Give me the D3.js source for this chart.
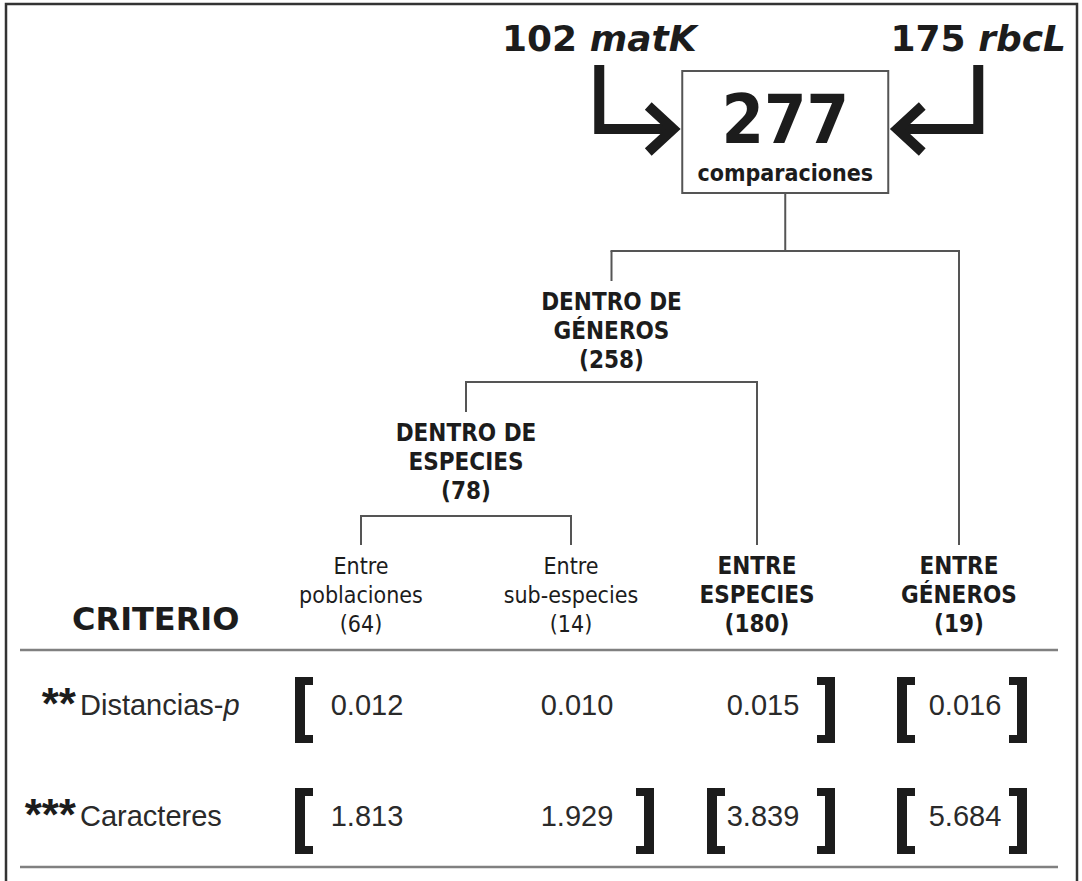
<!DOCTYPE html>
<html><head><meta charset="utf-8">
<script src="https://cdn.jsdelivr.net/npm/d3@7"></script>
<style>body{margin:0;background:#fff}</style>
</head><body><svg id="c" width="1082" height="881"></svg>
<script>
// ---------------- data ----------------
const total = 277;
const totalLabel = "comparaciones";
const sourceCounts = [102, 175];
const sourceGenes = ["matK", "rbcL"];
const innerLines = [["DENTRO DE", "GÉNEROS"], ["DENTRO DE", "ESPECIES"]];
const innerCounts = [258, 78];
const leafKeys = ["poblaciones", "subespecies", "especies", "generos"];
const leafLines = [["Entre", "poblaciones"], ["Entre", "sub-especies"], ["ENTRE", "ESPECIES"], ["ENTRE", "GÉNEROS"]];
const leafCounts = [64, 14, 180, 19];
const leafBold = [false, false, true, true];
const criterionTitle = "CRITERIO";
const criteria = ["Distancias-", "Caracteres"];
const criteriaItalic = ["p", ""];
const criteriaStars = ["**", "***"];
const distanciasP = [0.012, 0.010, 0.015, 0.016];
const caracteres = [1.813, 1.929, 3.839, 5.684];
const distanciasGroups = [[0, 2], [3, 3]];
const caracteresGroups = [[0, 1], [2, 2], [3, 3]];

// ---------------- layout ----------------
const svg = d3.select("#c");
const x = d3.scaleOrdinal().domain(leafKeys).range([361, 571, 757, 959]);
const rowY = d3.scaleOrdinal().domain(criteria).range([715, 826]);
const barY = [251, 382, 516];
const leafTop = 545, lineH = 29;
const bracketLeftPad = [66, 60, 50, 62], bracketRightPad = [70, 83, 78, 68];
const COND = "'DejaVu Sans Condensed','DejaVu Sans',sans-serif";
const INK = "#1c1c1c", LINE = "#555";

// frame
svg.append("path").attr("d", "M6,881V4H1077V881").attr("fill", "none")
  .attr("stroke", "#333").attr("stroke-width", 2.5);

// tree
const leaf = i => ({key: leafKeys[i], lines: leafLines[i], n: leafCounts[i], bold: leafBold[i]});
const treeData = {children: [
  {lines: innerLines[0], n: innerCounts[0], bold: true, children: [
    {lines: innerLines[1], n: innerCounts[1], bold: true, children: [leaf(0), leaf(1)]},
    leaf(2)]},
  leaf(3)]};
const root = d3.hierarchy(treeData);
root.eachAfter(d => { d.x = d.children ? d3.mean(d.children, c => c.x) : x(d.data.key); });
const nodeTop = d => d.children ? barY[d.depth - 1] + 30 : leafTop;

const g = svg.append("g").attr("fill", "none").attr("stroke", LINE).attr("stroke-width", 2);
root.each(p => {
  if (!p.children) return;
  const xs = p.children.map(c => c.x);
  g.append("line").attr("x1", d3.min(xs) - 1).attr("x2", d3.max(xs) + 1)
    .attr("y1", barY[p.depth]).attr("y2", barY[p.depth]);
  p.children.forEach(c => g.append("line").attr("x1", c.x).attr("x2", c.x)
    .attr("y1", barY[p.depth]).attr("y2", nodeTop(c)));
});

// root box
const boxW = 206, boxTop = 71, boxBot = 193;
const boxL = root.x - boxW / 2, boxR = root.x + boxW / 2;
svg.append("rect").attr("x", boxL).attr("y", boxTop).attr("width", boxW).attr("height", boxBot - boxTop)
  .attr("fill", "#fff").attr("stroke", LINE).attr("stroke-width", 2);
g.append("line").attr("x1", root.x).attr("x2", root.x).attr("y1", boxBot).attr("y2", barY[0]);
svg.append("text").attr("x", root.x).attr("y", 143).attr("text-anchor", "middle")
  .attr("font-family", COND).attr("font-weight", "bold").attr("font-size", 68).attr("fill", INK).text(total);
svg.append("text").attr("x", root.x).attr("y", 181).attr("text-anchor", "middle")
  .attr("font-family", COND).attr("font-weight", "bold").attr("font-size", 23).attr("fill", INK).text(totalLabel);

// source arrows
const arrowY = 129, arrowTop = 65;
const srcX = [boxL - 83, boxR + 90];
const tipX = [boxL - 9, boxR + 9];
const dir = [1, -1];
sourceCounts.forEach((n, i) => {
  const t = svg.append("text").attr("x", srcX[i]).attr("y", 51).attr("text-anchor", "middle")
    .attr("font-family", "'DejaVu Sans',sans-serif").attr("font-weight", "bold").attr("font-size", 36).attr("fill", INK);
  t.append("tspan").text(n + " ");
  t.append("tspan").attr("font-style", "italic").text(sourceGenes[i]);
  svg.append("path").attr("d", `M${srcX[i]},${arrowTop}V${arrowY}H${tipX[i] - dir[i] * 4}`)
    .attr("fill", "none").attr("stroke", INK).attr("stroke-width", 10).attr("stroke-linejoin", "miter");
  svg.append("path").attr("d", `M${tipX[i] - dir[i] * 25},${arrowY - 23}L${tipX[i]},${arrowY}L${tipX[i] - dir[i] * 25},${arrowY + 23}`)
    .attr("fill", "none").attr("stroke", INK).attr("stroke-width", 10).attr("stroke-linejoin", "miter");
});

// node labels
root.descendants().filter(d => d.depth > 0).forEach(d => {
  const t = svg.append("text").attr("text-anchor", "middle").attr("font-family", COND)
    .attr("font-weight", d.data.bold ? "bold" : "normal").attr("font-size", d.data.bold ? 24 : 23).attr("fill", INK);
  const y0 = nodeTop(d) + 29;
  d.data.lines.concat([`(${d.data.n})`]).forEach((s, k) =>
    t.append("tspan").attr("x", d.x).attr("y", y0 + k * lineH).text(s));
});

// criterion table
svg.append("text").attr("x", 72).attr("y", 630).attr("font-family", "'DejaVu Sans',sans-serif")
  .attr("font-weight", "bold").attr("font-size", 32).attr("fill", INK).text(criterionTitle);
[650, 867].forEach(y => svg.append("line").attr("x1", 20).attr("x2", 1058).attr("y1", y).attr("y2", y)
  .attr("stroke", "#808080").attr("stroke-width", 2.5));

const rows = [distanciasP, caracteres];
const rowGroups = [distanciasGroups, caracteresGroups];
const fmt = d3.format(".3f");
const SANS = "'Liberation Sans',Arial,sans-serif";
criteria.forEach((c, r) => {
  const y = rowY(c);
  svg.append("text").attr("x", 76).attr("y", y + 4).attr("text-anchor", "end").attr("font-family", SANS)
    .attr("font-weight", "bold").attr("font-size", 44).attr("fill", INK).text(criteriaStars[r]);
  const t = svg.append("text").attr("x", 80).attr("y", y).attr("font-family", SANS)
    .attr("font-size", 29).attr("fill", "#2a2a2a");
  t.append("tspan").text(c);
  if (criteriaItalic[r]) t.append("tspan").attr("font-style", "italic").text(criteriaItalic[r]);
  rows[r].forEach((v, i) => svg.append("text").attr("x", x(leafKeys[i]) + 6).attr("y", y)
    .attr("text-anchor", "middle").attr("font-family", SANS).attr("font-size", 29).attr("fill", "#2a2a2a").text(fmt(v)));
  const top = y - 38, bot = y + 28, bw = 10, sw = 18, st = 8;
  rowGroups[r].forEach(([a, b]) => {
    const L = x(leafKeys[a]) - bracketLeftPad[a];
    svg.append("path").attr("fill", INK).attr("d",
      `M${L},${top}H${L + sw}V${top + st}H${L + bw}V${bot - st}H${L + sw}V${bot}H${L}Z`);
    const R = x(leafKeys[b]) + bracketRightPad[b];
    svg.append("path").attr("fill", INK).attr("d",
      `M${R},${top}H${R - sw}V${top + st}H${R - bw}V${bot - st}H${R - sw}V${bot}H${R}Z`);
  });
});
</script></body></html>
